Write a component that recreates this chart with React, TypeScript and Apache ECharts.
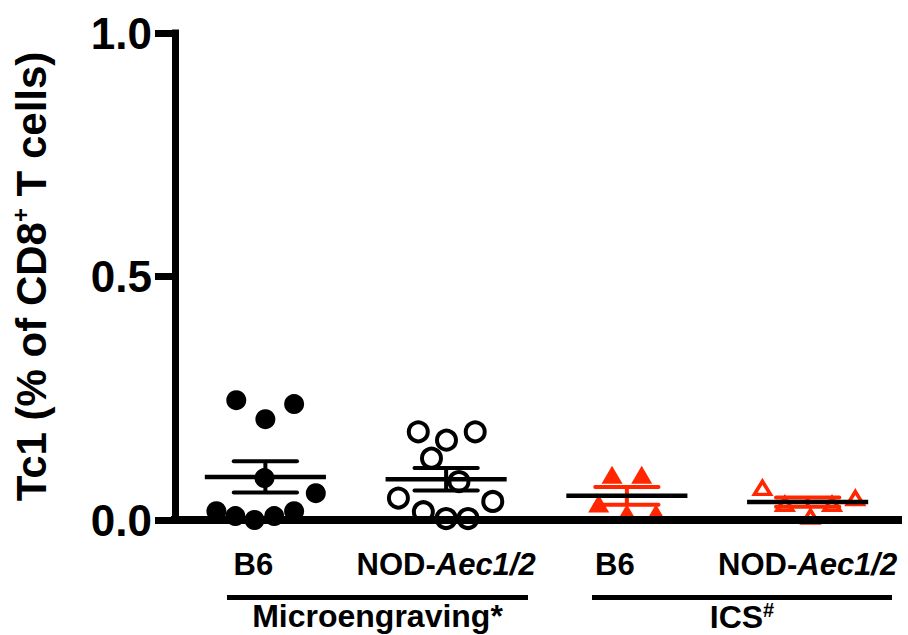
import React, { useEffect, useRef } from "react";
import * as echarts from "echarts";

// ---- data ----
const categories = ["B6", "NOD-Aec1/2", "B6", "NOD-Aec1/2"];
const methods = ["Microengraving*", "ICS#"];
const yTicks = [0.0, 0.5, 1.0];

const b6MicroY = [0.246, 0.207, 0.238, 0.086, 0.055, 0.018, 0.008, 0.0, 0.008, 0.018];
const b6MicroJitter = [-0.161, 0, 0.159, -0.005, 0.279, -0.271, -0.166, -0.06, 0.049, 0.159];
const nodMicroY = [0.181, 0.164, 0.181, 0.127, 0.079, 0.045, 0.038, 0.017, 0.003, 0.003];
const nodMicroJitter = [-0.154, 0.002, 0.161, -0.081, 0.071, -0.264, 0.258, -0.126, 0, 0.121];
const b6IcsY = [0.093, 0.093, 0.034, 0.014, 0.014];
const b6IcsJitter = [-0.082, 0.082, -0.156, 0, 0.161];
const nodIcsY = [0.066, 0.033, 0.007, 0.033, 0.045];
const nodIcsJitter = [-0.25, -0.126, 0.016, 0.135, 0.264];

const RED = "#ff2600";
const FONT = "'Liberation Sans', Arial, Helvetica, sans-serif";

function pts(center: number, ys: number[], jit: number[]) {
  return ys.map((y, i) => [center + jit[i], y]);
}
function meanSem(ys: number[]) {
  const n = ys.length;
  const m = ys.reduce((a, b) => a + b, 0) / n;
  const sd = Math.sqrt(ys.reduce((a, b) => a + (b - m) * (b - m), 0) / (n - 1));
  return [m, sd / Math.sqrt(n)];
}

export default function App() {
  const ref = useRef<HTMLDivElement>(null);
  useEffect(() => {
    if (!ref.current) return;
    const chart = echarts.init(ref.current, null, { renderer: "svg" });
    const groups = [b6MicroY, nodMicroY, b6IcsY, nodIcsY];
    const statData = groups.map((g, i) => {
      const [m, s] = meanSem(g);
      return [i + 1, m, s];
    });
    const semColors = ["#000", "#000", RED, RED];

    chart.setOption({
      animation: false,
      backgroundColor: "#fff",
      grid: { left: 168, right: 10, top: 33, bottom: 115, containLabel: false },
      xAxis: {
        type: "value",
        min: 0.5,
        max: 4.5,
        z: 10,
        splitLine: { show: false },
        axisTick: { show: false },
        axisLine: { show: true, lineStyle: { color: "#000", width: 8, cap: "square" } },
        axisLabel: {
          customValues: [1, 2, 3, 4],
          margin: 29,
          formatter: (v: number) => {
            const c = categories[Math.round(v) - 1];
            if (c.startsWith("NOD-")) return "{b|NOD-}{i|" + c.slice(4) + "}";
            return "{s|" + c + "}";
          },
          rich: {
            b: { fontFamily: FONT, fontWeight: "bold", fontSize: 31, color: "#000" },
            i: { fontFamily: FONT, fontWeight: "bold", fontStyle: "italic", fontSize: 31, color: "#000" },
            s: { fontFamily: FONT, fontWeight: "bold", fontSize: 31, color: "#000", padding: [0, 24, 0, 0] },
          },
        },
      },
      yAxis: {
        type: "value",
        min: yTicks[0],
        max: yTicks[yTicks.length - 1],
        interval: 0.5,
        z: 10,
        splitLine: { show: false },
        axisLine: { show: true, lineStyle: { color: "#000", width: 7, cap: "square" } },
        axisTick: { show: true, length: 20, lineStyle: { color: "#000", width: 7 } },
        axisLabel: {
          margin: 23,
          fontFamily: FONT,
          fontWeight: "bold",
          fontSize: 44,
          color: "#000",
          formatter: (v: number) => v.toFixed(1),
        },
        name: "{a|Tc1 (% of CD8}{p|+}{a| T cells)}",
        nameLocation: "middle",
        nameGap: 121,
        nameRotate: 90,
        nameTextStyle: {
          rich: {
            a: { fontFamily: FONT, fontWeight: "bold", fontSize: 42, color: "#000", lineHeight: 46 },
            p: { fontFamily: FONT, fontWeight: "bold", fontSize: 24, color: "#000", verticalAlign: "top", lineHeight: 46, padding: [0, 0, 14, 0] },
          },
        },
      },
      series: [
        {
          type: "scatter",
          z: 2,
          symbol: "circle",
          symbolSize: 20,
          itemStyle: { color: "#000", opacity: 1 },
          data: pts(1, b6MicroY, b6MicroJitter),
        },
        {
          type: "scatter",
          z: 2,
          symbol: "circle",
          symbolSize: 19,
          itemStyle: { color: "#fff", borderColor: "#000", borderWidth: 4, opacity: 1 },
          data: pts(2, nodMicroY, nodMicroJitter),
        },
        {
          type: "scatter",
          z: 2,
          symbol: "triangle",
          symbolSize: [21, 18],
          itemStyle: { color: RED, opacity: 1 },
          data: pts(3, b6IcsY, b6IcsJitter),
        },
        {
          type: "scatter",
          z: 2,
          symbol: "triangle",
          symbolSize: [16, 13],
          itemStyle: { color: "#fff", borderColor: RED, borderWidth: 3.5, opacity: 1 },
          data: pts(4, nodIcsY, nodIcsJitter),
        },
        {
          type: "custom",
          z: 3,
          data: statData,
          renderItem: (params: any, api: any) => {
            const x = api.value(0);
            const m = api.value(1);
            const s = api.value(2);
            const c = api.coord([x, m]);
            const t = api.coord([x, m + s]);
            const b = api.coord([x, m - s]);
            const hm = api.size([0.335, 0])[0];
            const hs = api.size([0.175, 0])[0];
            const col = semColors[params.dataIndex];
            return {
              type: "group",
              children: [
                { type: "line", shape: { x1: c[0], y1: t[1], x2: c[0], y2: b[1] }, style: { stroke: col, lineWidth: 4 } },
                { type: "line", shape: { x1: c[0] - hs, y1: t[1], x2: c[0] + hs, y2: t[1] }, style: { stroke: col, lineWidth: 4, lineCap: "round" } },
                { type: "line", shape: { x1: c[0] - hs, y1: b[1], x2: c[0] + hs, y2: b[1] }, style: { stroke: col, lineWidth: 4, lineCap: "round" } },
                { type: "line", shape: { x1: c[0] - hm, y1: c[1], x2: c[0] + hm, y2: c[1] }, style: { stroke: "#000", lineWidth: 4.5 } },
              ],
            };
          },
        },
      ],
      graphic: [
        { type: "line", shape: { x1: 227, y1: 597.5, x2: 528, y2: 597.5 }, style: { stroke: "#000", lineWidth: 5 } },
        { type: "line", shape: { x1: 592, y1: 597.5, x2: 892, y2: 597.5 }, style: { stroke: "#000", lineWidth: 5 } },
        {
          type: "text",
          x: 377.5,
          y: 600,
          style: { text: methods[0], fontFamily: FONT, fontWeight: "bold", fontSize: 32, fill: "#000", align: "center", verticalAlign: "top" },
        },
        {
          type: "text",
          x: 742,
          y: 600,
          style: {
            text: "{a|" + methods[1].slice(0, -1) + "}{p|" + methods[1].slice(-1) + "}",
            align: "center",
            verticalAlign: "top",
            rich: {
              a: { fontFamily: FONT, fontWeight: "bold", fontSize: 32, fill: "#000", lineHeight: 34 },
              p: { fontFamily: FONT, fontWeight: "bold", fontSize: 20, fill: "#000", verticalAlign: "top", lineHeight: 34, padding: [0, 0, 10, 0] },
            },
          },
        },
      ],
    });
    return () => chart.dispose();
  }, []);
  return <div ref={ref} style={{ position: "absolute", left: 0, top: 0, width: 908, height: 635 }} />;
}
